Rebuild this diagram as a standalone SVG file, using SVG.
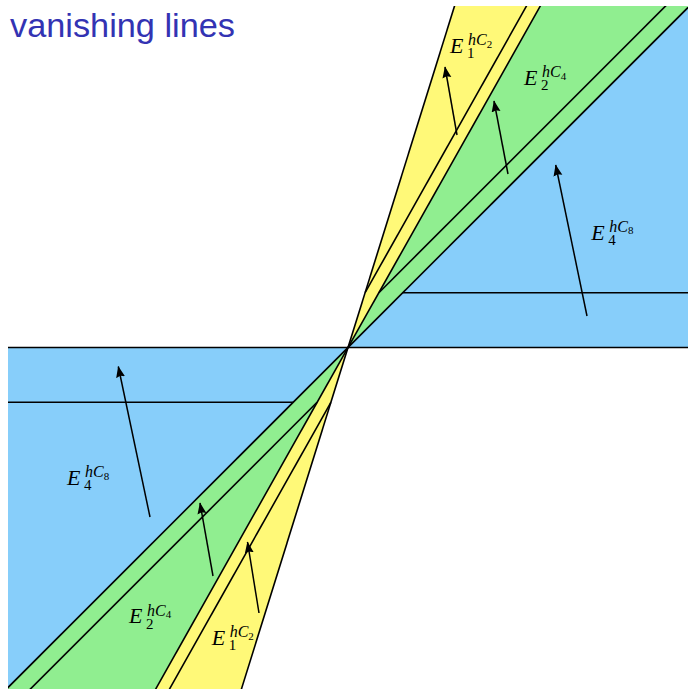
<svg xmlns="http://www.w3.org/2000/svg" width="688" height="689" viewBox="0 0 688 689">
  <defs>
    <clipPath id="frame"><rect x="8" y="6" width="680" height="684"/></clipPath>
    <marker id="ah" markerUnits="userSpaceOnUse" markerWidth="13" markerHeight="10" refX="11" refY="4.5" orient="auto">
      <path d="M0,0 L11.5,4.5 L0,9 L1.5,4.5 Z" fill="#000"/>
    </marker>
  </defs>
  <style>
    .ln { stroke: #000; stroke-width: 1.6; fill: none; }
    .arr { stroke: #000; stroke-width: 1.5; fill: none; marker-end: url(#ah); }
    .y { fill: #FFF978; }
    .g { fill: #90EE90; }
    .b { fill: #87CEFA; }
    .lab { font-family: "Liberation Serif", serif; font-style: italic; font-size: 22px; fill: #000; }
    .sup { font-size: 16px; }
    .sub { font-size: 15px; font-style: normal; }
    .ss { font-size: 11px; font-style: normal; }
    .title { font-family: "Liberation Sans", "DejaVu Sans", sans-serif; font-size: 34px; fill: #3333B3; }
  </style>

  <text class="title" x="10" y="37" textLength="225" lengthAdjust="spacingAndGlyphs">vanishing lines</text>

  <g id="regions" clip-path="url(#frame)">
    <polygon class="y" points="348,347.5 472.8,-52.5 573.2,-52.5"/>
    <polygon class="g" points="348,347.5 573.2,-52.5 748,-52.5"/>
    <polygon class="b" points="348,347.5 748,-52.5 748,347.5"/>
    <polygon class="y" points="348,347.5 223.2,747.5 122.8,747.5"/>
    <polygon class="g" points="348,347.5 122.8,747.5 -52,747.5"/>
    <polygon class="b" points="348,347.5 -52,747.5 -52,347.5"/>
  </g>

  <g id="lines" clip-path="url(#frame)">
    <line class="ln" x1="472.8" y1="-52.5" x2="223.2" y2="747.5"/>
    <line class="ln" x1="573.2" y1="-52.5" x2="122.8" y2="747.5"/>
    <line class="ln" x1="748" y1="-52.5" x2="-52" y2="747.5"/>
    <line class="ln" x1="-52" y1="347.5" x2="748" y2="347.5"/>
    <line class="ln" x1="365.1" y1="292.7" x2="559.4" y2="-52.5"/>
    <line class="ln" x1="378.9" y1="292.7" x2="724.1" y2="-52.5"/>
    <line class="ln" x1="402.8" y1="292.7" x2="748" y2="292.7"/>
    <line class="ln" x1="330.9" y1="402.3" x2="136.6" y2="747.5"/>
    <line class="ln" x1="317.1" y1="402.3" x2="-28.1" y2="747.5"/>
    <line class="ln" x1="293.2" y1="402.3" x2="-52" y2="402.3"/>
  </g>

  <g id="arrows">
    <line class="arr" x1="457" y1="135" x2="445" y2="67"/>
    <line class="arr" x1="508" y1="174" x2="494" y2="101"/>
    <line class="arr" x1="587" y1="316" x2="555.7" y2="165"/>
    <line class="arr" x1="150" y1="517" x2="118.3" y2="366.5"/>
    <line class="arr" x1="213" y1="576" x2="200" y2="503"/>
    <line class="arr" x1="259" y1="613" x2="247.5" y2="542"/>
  </g>

  <g id="label-top-yellow">
    <text class="lab" x="450" y="52.7">E<tspan class="sub" x="467" dy="5.3">1</tspan><tspan class="sup" x="468" dy="-13">hC</tspan><tspan class="ss" dy="2.5">2</tspan></text>
  </g>
  <g id="label-top-green">
    <text class="lab" x="524" y="85">E<tspan class="sub" x="541" dy="5.3">2</tspan><tspan class="sup" x="542" dy="-13">hC</tspan><tspan class="ss" dy="2.5">4</tspan></text>
  </g>
  <g id="label-top-blue">
    <text class="lab" x="591.3" y="239.5">E<tspan class="sub" x="608.3" dy="5.3">4</tspan><tspan class="sup" x="609.3" dy="-13">hC</tspan><tspan class="ss" dy="2.5">8</tspan></text>
  </g>
  <g id="label-bottom-blue">
    <text class="lab" x="67" y="485">E<tspan class="sub" x="84" dy="5.3">4</tspan><tspan class="sup" x="85" dy="-13">hC</tspan><tspan class="ss" dy="2.5">8</tspan></text>
  </g>
  <g id="label-bottom-green">
    <text class="lab" x="129" y="623.3">E<tspan class="sub" x="146" dy="5.3">2</tspan><tspan class="sup" x="147" dy="-13">hC</tspan><tspan class="ss" dy="2.5">4</tspan></text>
  </g>
  <g id="label-bottom-yellow">
    <text class="lab" x="211.7" y="645">E<tspan class="sub" x="228.7" dy="5.3">1</tspan><tspan class="sup" x="229.7" dy="-13">hC</tspan><tspan class="ss" dy="2.5">2</tspan></text>
  </g>
</svg>
